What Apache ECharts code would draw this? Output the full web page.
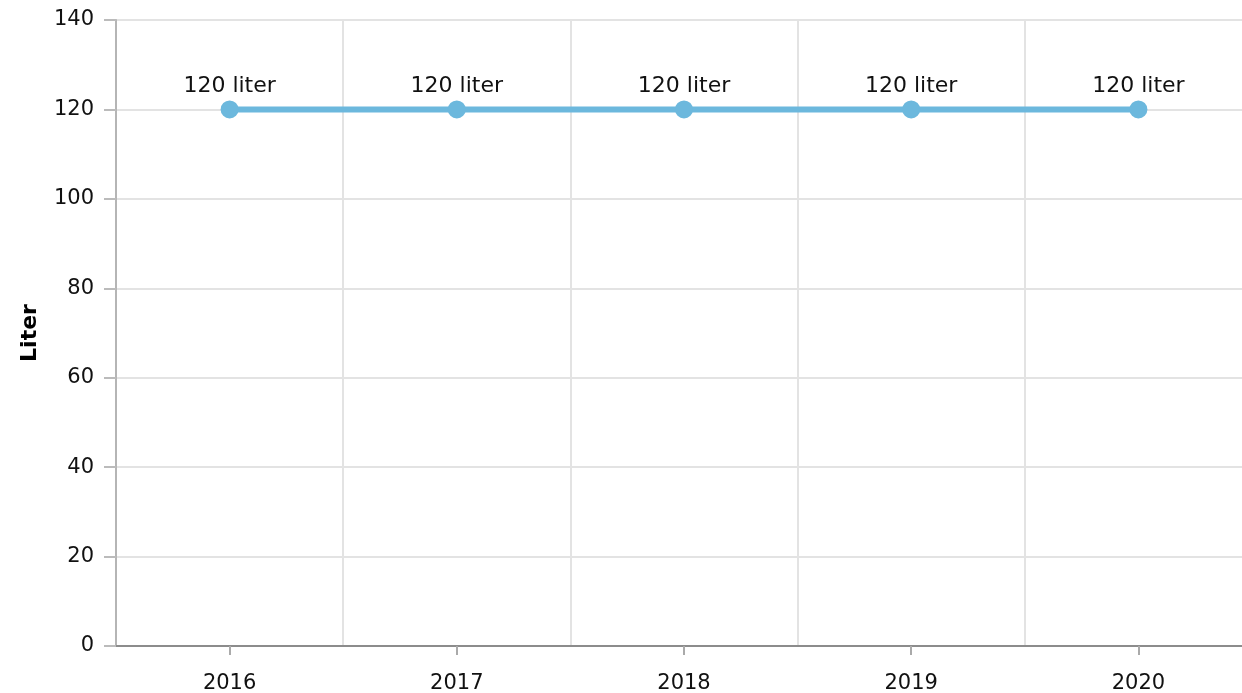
<!DOCTYPE html>
<html>
<head>
<meta charset="utf-8">
<script src="https://cdn.jsdelivr.net/npm/echarts@6/dist/echarts.min.js"></script>
<style>
    html, body { margin: 0; padding: 0; background: #fff; }
    #chart { width: 1242px; height: 693px; }
</style>
</head>
<body>
<div id="chart"></div>
<script>
    // data
    var years = ['2016', '2017', '2018', '2019', '2020'];
    var liters = [120, 120, 120, 120, 120];
    var unit = 'liter';

    var chart = echarts.init(document.getElementById('chart'));
    var font = 'DejaVu Sans, Verdana, sans-serif';
    var option = {
        animation: false,
        // the plot runs a little past the right edge of the picture
        grid: { left: 116, right: -10, top: 20, bottom: 47, outerBoundsMode: 'none', containLabel: false },
        xAxis: {
            type: 'category',
            data: years,
            boundaryGap: true,
            axisLine: { lineStyle: { color: '#8c8c8c', width: 2 } },
            axisTick: { show: true, alignWithLabel: true, length: 9, lineStyle: { color: '#aaa', width: 2 } },
            axisLabel: { color: '#111', fontSize: 21, fontFamily: font, margin: 27 },
            splitLine: { show: true, showMinLine: false, showMaxLine: false, lineStyle: { color: '#e3e3e3', width: 2 } }
        },
        yAxis: {
            type: 'value',
            min: 0,
            max: 140,
            interval: 20,
            name: 'Liter',
            nameLocation: 'middle',
            nameGap: 75,
            nameRotate: 90,
            nameTextStyle: { color: '#000', fontSize: 22, fontWeight: 'bold', fontFamily: font },
            axisLine: { show: true, lineStyle: { color: '#b5b5b5', width: 2 } },
            axisTick: { show: true, length: 12, lineStyle: { color: '#bbb', width: 2 } },
            axisLabel: { color: '#111', fontSize: 21, fontFamily: font, margin: 22 },
            splitLine: { show: true, lineStyle: { color: '#e3e3e3', width: 2 } }
        },
        series: [{
            type: 'line',
            data: liters,
            symbol: 'circle',
            symbolSize: 18,
            itemStyle: { color: '#6cb8dd' },
            lineStyle: { color: '#6cb8dd', width: 6 },
            label: {
                show: true,
                position: 'top',
                distance: 3,
                color: '#111',
                fontSize: 22,
                fontFamily: font,
                formatter: function (p) { return p.value + ' ' + unit; }
            }
        }]
    };
    chart.setOption(option);
</script>
</body>
</html>
